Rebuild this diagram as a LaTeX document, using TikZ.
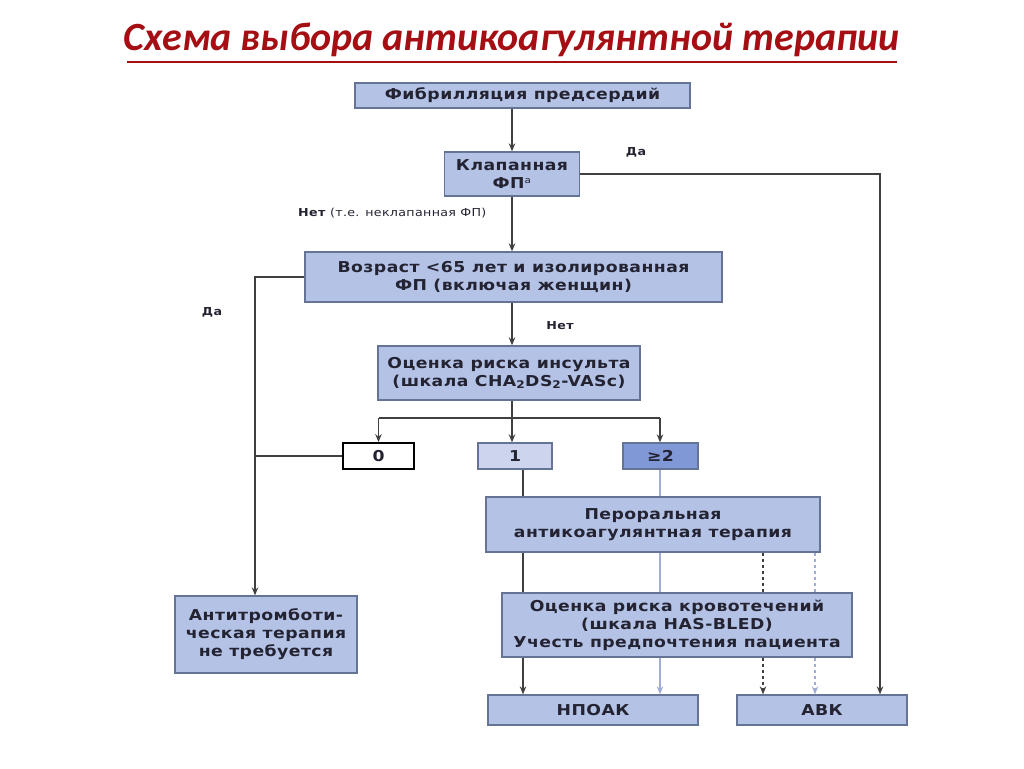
\documentclass[tikz,border=0pt]{standalone}
\usepackage{fontspec}
\setmainfont{DejaVu Sans}[FakeStretch=1.15, LetterSpace=3]
\newfontfamily\titlefont{Carlito}
\usepackage{tikz}
\usetikzlibrary{arrows.meta,calc,positioning}
\usepackage{xcolor}
\definecolor{Boxfill}{RGB}{180,194,230}
\definecolor{Boxedge}{RGB}{100,115,150}
\definecolor{Onefill}{RGB}{205,213,238}
\definecolor{Twofill}{RGB}{128,152,214}
\definecolor{Paleline}{RGB}{160,172,212}
\definecolor{Titlered}{RGB}{165,15,20}
\definecolor{Textdark}{RGB}{35,35,50}
\tikzset{
  box/.style = {draw=Boxedge, fill=Boxfill, line width=1.3pt, align=center, inner sep=0pt,
                text=Textdark, font=\bfseries\fontsize{15}{18}\selectfont},
  zerobox/.style = {box, fill=white, draw=black, line width=1.8pt},
  onebox/.style = {box, fill=Onefill},
  twobox/.style = {box, fill=Twofill},
  lbl/.style = {inner sep=0pt, text=Textdark, font=\fontsize{11}{13}\selectfont},
  arr/.style = {-{Stealth[length=8pt,width=6.5pt]}, line width=1.4pt, draw=black!75},
  link/.style = {line width=1.4pt, draw=black!75},
}

\begin{document}
\begin{tikzpicture}[x=1pt,y=-1pt]
\useasboundingbox (0,0) rectangle (1024,768);
%
% title
\node (title) at (512,40) {\titlefont\bfseries\itshape\fontsize{40}{44}\selectfont\textcolor{Titlered}{Схема выбора антикоагулянтной терапии}};
\draw[Titlered, line width=2pt] (127,62) -- (897,62);
%
% boxes
\node[box, minimum width=335, minimum height=25] (fib) at (522.5,95.5) {Фибрилляция предсердий};
\node[box, minimum width=135, minimum height=44] (klap) at (512,174) {Клапанная\\ФП\textsuperscript{\mdseries\fontsize{9}{9}\selectfont a}};
\node[box, minimum width=417, minimum height=50] (vozr) at (513.5,277) {Возраст <65 лет и изолированная\\ФП (включая женщин)};
\node[box, minimum width=262, minimum height=54] (insult) at (509,373) {Оценка риска инсульта\\(шкала CHA\textsubscript{2}DS\textsubscript{2}-VASc)};
\node[zerobox, minimum width=71, minimum height=26] (zero) at (378.5,456) {0};
\node[onebox, minimum width=74, minimum height=26] (one) at (515,456) {1};
\node[twobox, minimum width=75, minimum height=26] (two) at (660.5,456) {≥2};
\node[box, minimum width=334, minimum height=55] (oak) at (653,524.5) {Пероральная\\антикоагулянтная терапия};
\node[box, minimum width=350, minimum height=64] (hasbled) at (677,625) {Оценка риска кровотечений\\(шкала HAS-BLED)\\Учесть предпочтения пациента};
\node[box, minimum width=210, minimum height=30] (npoak) at (593,710) {НПОАК};
\node[box, minimum width=170, minimum height=30] (avk) at (822,710) {АВК};
\node[box, minimum width=182, minimum height=77] (noat) at (266,634.5) {Антитромботи-\\ческая терапия\\не требуется};
%
% labels
\node[lbl, font=\bfseries\fontsize{11}{13}\selectfont] (yes1) at (636,152) {Да};
\node[lbl, anchor=west] (no1) at (298,213) {\textbf{Нет} (т.е. неклапанная ФП)};
\node[lbl, font=\bfseries\fontsize{11}{13}\selectfont] (yes2) at (212,312) {Да};
\node[lbl, font=\bfseries\fontsize{11}{13}\selectfont] (no2) at (560,326) {Нет};
%
% columns of the lines
\coordinate (leftcol) at (255,0);
\coordinate (colA) at (523,0);
\coordinate (colB) at (660,0);
\coordinate (colC) at (763,0);
\coordinate (colD) at (815,0);
\coordinate (rightcol) at (880,0);
\coordinate (bus) at (512,418);
%
% connectors
\draw[arr] (fib.south -| klap.north) -- (klap.north);
\draw[arr] (klap.south) -- (klap.south |- vozr.north);
\draw[arr] (klap.east) -| (avk.north -| rightcol);
\draw[arr] (vozr.west) -| (noat.north -| leftcol);
\draw[link] (zero.west) -- (zero.west -| leftcol);
\draw[arr] (vozr.south -| klap.south) -- (insult.north -| klap.south);
\draw[link] (insult.south -| bus) -- (bus);
\draw[link] (bus -| zero.north) -- (bus -| colB);
\draw[arr] (bus) -- (one.north -| bus);
\draw[arr] (bus -| zero.north) -- (zero.north);
\draw[arr] (bus -| colB) -- (two.north -| colB);
%
\draw[link] (one.south -| colA) -- (oak.north -| colA);
\draw[link] (oak.south -| colA) -- (hasbled.north -| colA);
\draw[arr] (hasbled.south -| colA) -- (npoak.north -| colA);
\draw[link, draw=Paleline] (two.south -| colB) -- (oak.north -| colB);
\draw[link, draw=Paleline] (oak.south -| colB) -- (hasbled.north -| colB);
\draw[arr, draw=Paleline] (hasbled.south -| colB) -- (npoak.north -| colB);
\draw[link, dashed] (oak.south -| colC) -- (hasbled.north -| colC);
\draw[arr, dashed] (hasbled.south -| colC) -- (avk.north -| colC);
\draw[link, dashed, draw=Paleline] (oak.south -| colD) -- (hasbled.north -| colD);
\draw[arr, dashed, draw=Paleline] (hasbled.south -| colD) -- (avk.north -| colD);
%
\end{tikzpicture}
\end{document}
